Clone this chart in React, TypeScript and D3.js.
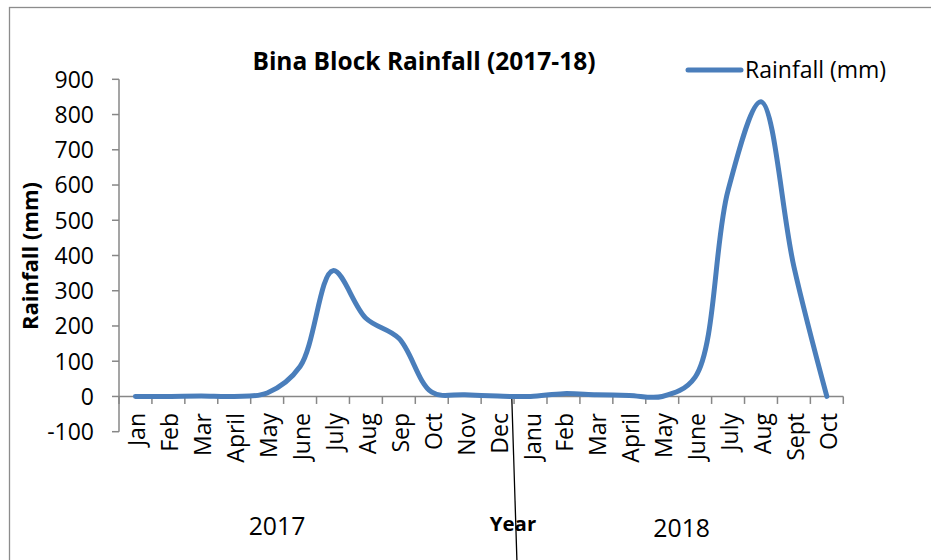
import React from "react";
import * as d3 from "d3";

// Monthly rainfall, Bina block, Jan 2017 – Oct 2018
const months: string[] = [
  "Jan", "Feb", "Mar", "April", "May", "June", "July", "Aug", "Sep", "Oct", "Nov", "Dec",
  "Janu", "Feb", "Mar", "April", "May", "June", "July", "Aug", "Sept", "Oct",
];
const rainfall: number[] = [
  0, 0, 1, 0, 10, 85, 357, 222, 165, 12, 5, 1,
  0, 8, 5, 3, 0, 55, 585, 836, 368, 0,
];
const yTicks: number[] = [-100, 0, 100, 200, 300, 400, 500, 600, 700, 800, 900];
const years: string[] = ["2017", "2018"];

const W = 931;
const H = 560;
const FONT = "'Open Sans', 'Noto Sans', 'DejaVu Sans', sans-serif";
const AXIS = "#878787";
const BLUE = "#4a7ebb";

// where each year caption sits, in category-width units from the axis origin
const YEAR_POS = [4.8, 17.09];
const YEAR_BASE = [535, 537];

export default function App() {
  const x = d3
    .scaleBand<number>()
    .domain(d3.range(months.length))
    .range([119, 843.3])
    .paddingInner(0)
    .paddingOuter(0);
  const y = d3.scaleLinear().domain([-100, 900]).range([431.7, 79.3]);
  const cx = (i: number) => (x(i) as number) + x.bandwidth() / 2;
  const along = d3.scaleLinear().domain([0, months.length]).range(x.range());

  const line = d3
    .line<number>()
    .x((_, i) => cx(i))
    .y((d) => y(d))
    .curve(d3.curveCatmullRom.alpha(0.5));

  const x0 = x.range()[0];
  const x1 = x.range()[1];
  const yZero = y(0);

  return (
    <svg
      width={W}
      height={H}
      style={{ position: "absolute", left: 0, top: 0, background: "#fff" }}
      fontFamily={FONT}
    >
      <rect x={0} y={0} width={W} height={H} fill="#fff" />
      {/* chart frame */}
      <rect x={9.5} y={7.5} width={W + 20} height={H + 20} fill="none" stroke="#8c8c8c" strokeWidth={1.3} />

      {/* title */}
      <text x={424} y={69.5} textAnchor="middle" fontSize={24.5} fontWeight="bold" fill="#000">
        Bina Block Rainfall (2017-18)
      </text>

      {/* y axis */}
      <line x1={x0} x2={x0} y1={y(900)} y2={y(-100)} stroke={AXIS} strokeWidth={1.5} />
      {yTicks.map((t) => (
        <g key={t}>
          <line x1={x0 - 7} x2={x0} y1={y(t)} y2={y(t)} stroke={AXIS} strokeWidth={1.5} />
          <text x={94} y={y(t)} dy="0.36em" textAnchor="end" fontSize={23} fill="#000">
            {t}
          </text>
        </g>
      ))}
      <text
        transform={`translate(37.5, 256) rotate(-90)`}
        textAnchor="middle"
        fontSize={22}
        fontWeight="bold"
        fill="#000"
      >
        Rainfall (mm)
      </text>

      {/* x axis along zero */}
      <line x1={x0} x2={x1} y1={yZero} y2={yZero} stroke={AXIS} strokeWidth={1.5} />
      {d3.range(months.length + 1).map((i) => {
        const px = along(i);
        return <line key={i} x1={px} x2={px} y1={yZero} y2={yZero + 7.5} stroke={AXIS} strokeWidth={1.5} />;
      })}
      {months.map((m, i) => (
        <text
          key={i}
          transform={`translate(${cx(i) + 10}, 413) rotate(-90)`}
          textAnchor="end"
          fontSize={23}
          fill="#000"
        >
          {m}
        </text>
      ))}

      {/* year captions */}
      {years.map((yr, i) => (
        <text key={yr} x={along(YEAR_POS[i])} y={YEAR_BASE[i]} textAnchor="middle" fontSize={24.8} fill="#000">
          {yr}
        </text>
      ))}
      <text x={513} y={531} textAnchor="middle" fontSize={20.4} fontWeight="bold" fill="#000">
        Year
      </text>
      {/* divider between the two years */}
      <line x1={511.7} y1={395} x2={516.9} y2={H} stroke="#000" strokeWidth={1.3} />

      {/* rainfall series */}
      <path d={line(rainfall) ?? ""} fill="none" stroke={BLUE} strokeWidth={5} strokeLinecap="round" strokeLinejoin="round" />

      {/* legend */}
      <line x1={688} x2={741} y1={70} y2={70} stroke={BLUE} strokeWidth={5} strokeLinecap="round" />
      <text x={745} y={78} fontSize={23} fill="#000">
        Rainfall (mm)
      </text>
    </svg>
  );
}
